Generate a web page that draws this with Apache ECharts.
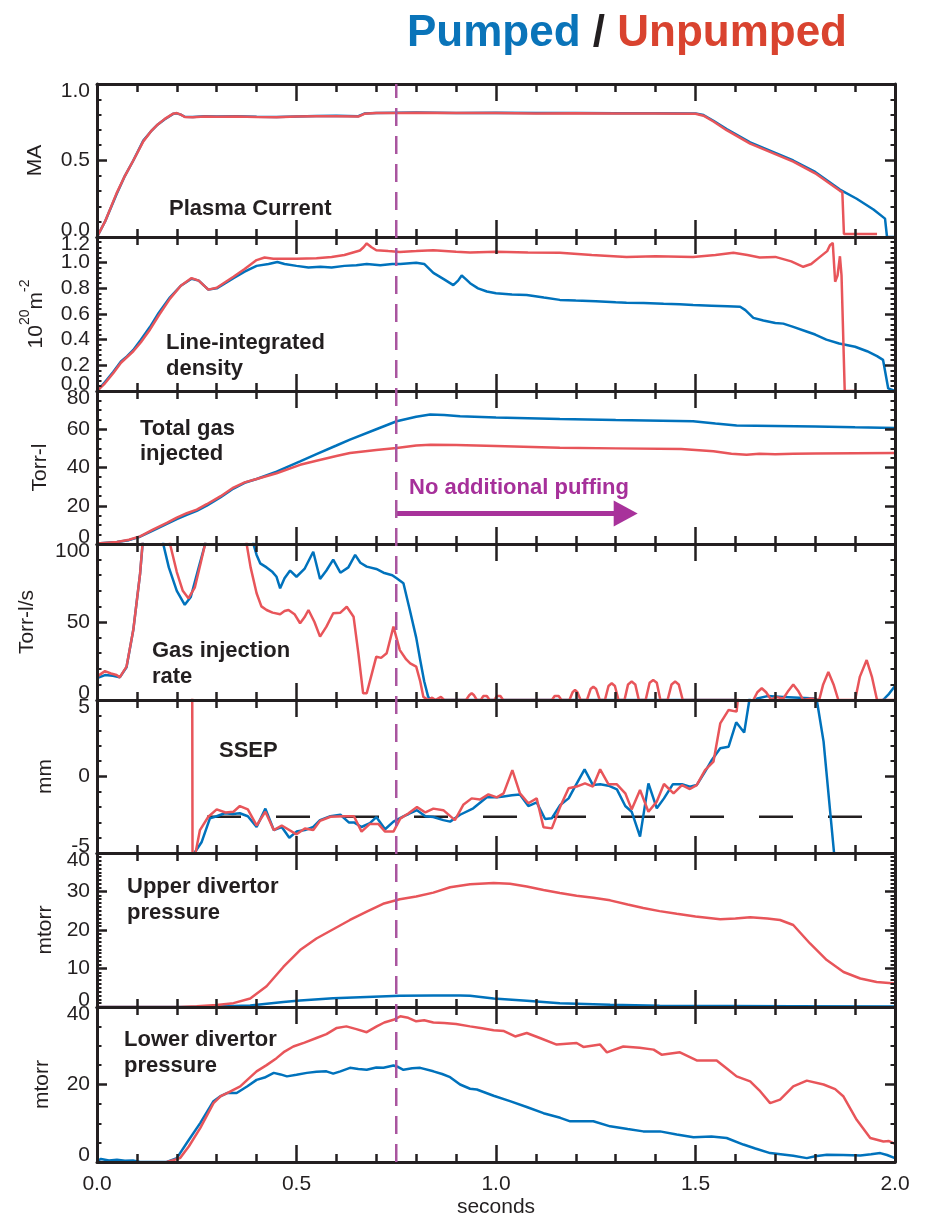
<!DOCTYPE html>
<html>
<head>
<meta charset="utf-8">
<script src="https://cdn.jsdelivr.net/npm/echarts@6/dist/echarts.min.js"></script>
<style>
  html, body { margin: 0; padding: 0; background: #ffffff; }
  #chart { width: 925px; height: 1218px; }
</style>
</head>
<body>
<div id="chart"></div>
<script>
// ---------------- data (time in seconds, value in panel units) ----------------

// Plasma current, MA
const currentPumped = [[0,0],[0.02,0.1],[0.049,0.28],[0.07,0.4],[0.091,0.5],[0.116,0.63],[0.135,0.69],[0.15,0.73],[0.17,0.77],[0.191,0.805],[0.2,0.808],[0.21,0.8],[0.22,0.786],[0.24,0.785],[0.27,0.789],[0.3,0.788],[0.35,0.789],[0.4,0.786],[0.45,0.785],[0.5,0.788],[0.55,0.791],[0.6,0.792],[0.655,0.79],[0.67,0.807],[0.7,0.811],[0.75,0.812],[0.8,0.813],[0.9,0.811],[1.0,0.812],[1.1,0.81],[1.2,0.811],[1.3,0.809],[1.4,0.809],[1.5,0.808],[1.52,0.797],[1.545,0.76],[1.578,0.705],[1.637,0.618],[1.7,0.55],[1.745,0.5],[1.8,0.425],[1.862,0.31],[1.904,0.25],[1.946,0.18],[1.975,0.12],[1.98,0.0],[2.0,0.0]];
const currentUnpumped = [[0,0],[0.02,0.1],[0.049,0.285],[0.07,0.4],[0.091,0.5],[0.116,0.625],[0.135,0.69],[0.15,0.73],[0.17,0.772],[0.191,0.806],[0.2,0.81],[0.21,0.8],[0.22,0.784],[0.24,0.783],[0.27,0.788],[0.3,0.786],[0.35,0.788],[0.4,0.785],[0.45,0.783],[0.5,0.787],[0.55,0.79],[0.6,0.79],[0.655,0.787],[0.67,0.805],[0.7,0.81],[0.75,0.811],[0.8,0.812],[0.9,0.81],[1.0,0.81],[1.1,0.808],[1.2,0.809],[1.3,0.807],[1.4,0.807],[1.5,0.806],[1.52,0.793],[1.545,0.755],[1.578,0.698],[1.637,0.61],[1.7,0.542],[1.745,0.492],[1.8,0.416],[1.862,0.302],[1.868,0.293],[1.872,0.02],[1.955,0.02]];

// Line-integrated density, 1e20 m^-2
const densityPumped = [[0,0],[0.02,0.07],[0.041,0.15],[0.06,0.23],[0.075,0.27],[0.091,0.32],[0.11,0.4],[0.133,0.5],[0.155,0.61],[0.183,0.73],[0.21,0.82],[0.237,0.875],[0.255,0.86],[0.279,0.79],[0.3,0.8],[0.342,0.88],[0.37,0.93],[0.4,0.975],[0.43,0.99],[0.452,1.005],[0.47,0.99],[0.5,0.975],[0.53,0.962],[0.56,0.968],[0.588,0.962],[0.62,0.975],[0.65,0.98],[0.676,0.99],[0.71,0.98],[0.74,0.99],[0.76,0.99],[0.8,1.0],[0.82,0.99],[0.843,0.92],[0.87,0.87],[0.893,0.825],[0.905,0.86],[0.914,0.9],[0.925,0.87],[0.935,0.84],[0.955,0.8],[0.977,0.775],[1.0,0.762],[1.04,0.752],[1.077,0.748],[1.12,0.728],[1.16,0.71],[1.2,0.705],[1.25,0.7],[1.3,0.692],[1.327,0.688],[1.37,0.686],[1.42,0.68],[1.46,0.676],[1.494,0.67],[1.54,0.665],[1.58,0.661],[1.612,0.657],[1.625,0.63],[1.645,0.57],[1.67,0.55],[1.7,0.53],[1.72,0.525],[1.745,0.5],[1.78,0.462],[1.8,0.44],[1.828,0.4],[1.86,0.37],[1.9,0.345],[1.93,0.31],[1.955,0.272],[1.97,0.243],[1.983,0.02],[2.0,0.0]];
const densityUnpumped = [[0,0],[0.02,0.06],[0.041,0.14],[0.06,0.22],[0.091,0.31],[0.11,0.38],[0.133,0.48],[0.155,0.59],[0.183,0.72],[0.21,0.82],[0.237,0.88],[0.255,0.86],[0.279,0.79],[0.3,0.805],[0.342,0.89],[0.37,0.95],[0.4,1.02],[0.42,1.04],[0.442,1.03],[0.5,1.03],[0.55,1.035],[0.588,1.045],[0.62,1.06],[0.659,1.095],[0.668,1.12],[0.676,1.15],[0.688,1.12],[0.7,1.097],[0.73,1.09],[0.759,1.084],[0.8,1.09],[0.843,1.097],[0.9,1.085],[0.935,1.08],[1.0,1.085],[1.08,1.08],[1.16,1.077],[1.24,1.06],[1.327,1.045],[1.4,1.05],[1.494,1.045],[1.55,1.06],[1.595,1.077],[1.63,1.06],[1.661,1.04],[1.7,1.045],[1.74,1.01],[1.77,0.968],[1.79,0.99],[1.812,1.045],[1.83,1.09],[1.837,1.136],[1.844,1.154],[1.85,0.851],[1.856,0.9],[1.862,1.05],[1.866,0.9],[1.874,0.0],[1.9,0.0]];

// Total gas injected, Torr-l
const gasTotalPumped = [[0,0.3],[0.05,1],[0.08,2],[0.108,3.8],[0.14,7],[0.175,10.5],[0.2,13],[0.225,15.2],[0.25,17.3],[0.275,20],[0.31,24.5],[0.342,29],[0.37,32],[0.4,34],[0.45,37.8],[0.509,43.2],[0.55,47],[0.6,51.5],[0.634,54.6],[0.7,60],[0.751,64.2],[0.8,66.5],[0.835,67.7],[0.87,67.5],[0.91,66.8],[1.0,66.2],[1.16,65.4],[1.3,64.8],[1.494,64.2],[1.55,63],[1.603,61.9],[1.7,61.7],[1.8,61.4],[1.9,61],[2.0,60.7]];
const gasTotalUnpumped = [[0,0.3],[0.05,1],[0.08,2.2],[0.108,4],[0.14,7.5],[0.175,11],[0.2,13.8],[0.225,16.1],[0.25,18],[0.275,20.8],[0.31,25],[0.342,29.5],[0.37,32.2],[0.4,34],[0.45,37],[0.509,41.4],[0.55,43.5],[0.6,46],[0.634,47.6],[0.7,49.2],[0.751,50.2],[0.8,51.5],[0.836,51.9],[0.9,51.8],[1.0,51.3],[1.16,50.3],[1.3,50],[1.464,49.7],[1.545,48.5],[1.59,47.2],[1.628,46.7],[1.66,47.2],[1.7,46.9],[1.745,47.2],[1.8,47.3],[1.9,47.5],[2.0,47.6]];

// Gas injection rate, Torr-l/s
const gasRatePumped = [[0,14],[0.02,16],[0.04,15.5],[0.057,14.5],[0.074,21],[0.091,45],[0.108,81],[0.115,102],[0.12,130],[0.16,130],[0.166,100],[0.18,85],[0.2,70],[0.22,61],[0.235,66],[0.255,85],[0.271,100],[0.28,130],[0.385,130],[0.392,100],[0.4,93],[0.409,87.6],[0.425,85],[0.44,82],[0.45,79],[0.459,71.6],[0.47,78],[0.484,83],[0.5,79],[0.52,84],[0.542,95],[0.559,77.6],[0.575,83],[0.592,90],[0.61,81.6],[0.63,85],[0.647,93],[0.66,88],[0.676,85.5],[0.7,84],[0.718,81.6],[0.74,80],[0.751,78],[0.768,74.8],[0.784,57.7],[0.8,40],[0.81,25.6],[0.82,12],[0.83,2],[0.84,0],[1.6,0],[1.615,-3],[1.64,-3],[1.655,1],[1.68,2.5],[1.72,2],[1.76,1.5],[1.8,1],[1.805,-4],[1.95,-2],[1.97,0],[1.985,4],[2.0,9]];
const gasRateUnpumped = [[0,15],[0.02,18.5],[0.035,17],[0.049,16],[0.057,14.5],[0.074,21.4],[0.091,45],[0.108,81],[0.114,100],[0.12,130],[0.175,130],[0.183,100],[0.2,82],[0.215,70],[0.229,65.2],[0.245,72],[0.26,88],[0.271,100],[0.28,130],[0.368,130],[0.375,100],[0.385,85],[0.4,68.4],[0.412,60],[0.425,57.7],[0.44,56],[0.459,55],[0.47,57],[0.48,57.7],[0.495,55],[0.509,49.2],[0.52,53],[0.53,57.7],[0.545,50],[0.559,40.6],[0.575,47],[0.592,55.6],[0.61,56],[0.626,59.8],[0.643,53.4],[0.655,30],[0.667,4.3],[0.676,4.3],[0.69,18],[0.7,27.8],[0.712,27],[0.726,30],[0.743,47],[0.759,32],[0.775,26],[0.785,23.5],[0.8,21.4],[0.81,12],[0.818,2],[0.83,0],[0.84,1.5],[0.848,0],[0.862,2],[0.87,0],[0.925,0],[0.933,3],[0.939,4.3],[0.945,3],[0.952,0],[0.962,0],[0.968,2.5],[0.972,3.2],[0.977,2.5],[0.984,0],[0.996,0],[1.002,2.5],[1.006,3.2],[1.011,2.5],[1.018,0],[1.14,0],[1.147,2.5],[1.152,3.2],[1.157,2.5],[1.164,0],[1.184,0],[1.192,5],[1.198,6.4],[1.204,5],[1.212,0],[1.228,0],[1.237,7],[1.244,8.5],[1.251,7],[1.26,0],[1.273,0],[1.282,9],[1.29,10.7],[1.298,9],[1.307,0],[1.322,0],[1.331,10],[1.34,11.8],[1.349,10],[1.358,0],[1.375,0],[1.385,11],[1.394,12.8],[1.403,11],[1.412,0],[1.43,0],[1.44,10],[1.449,11.8],[1.458,10],[1.468,0],[1.6,0],[1.61,-3],[1.635,-4],[1.645,0],[1.655,5],[1.666,7.5],[1.677,5],[1.69,0],[1.7,2],[1.72,1],[1.733,6],[1.745,10],[1.757,6],[1.77,0],[1.79,1],[1.81,0],[1.82,10],[1.833,18],[1.846,10],[1.858,0],[1.9,0],[1.912,15],[1.929,25.6],[1.942,15],[1.955,0],[2.0,0]];

// SSEP, mm
const ssepPumped = [[0.242,-6],[0.244,-5],[0.262,-4.3],[0.283,-2.74],[0.3,-2.6],[0.32,-2.4],[0.34,-2.45],[0.358,-2.4],[0.378,-2.6],[0.4,-3.3],[0.422,-2.1],[0.443,-3.5],[0.463,-3.3],[0.482,-4.0],[0.5,-3.6],[0.521,-3.5],[0.542,-3.3],[0.559,-2.85],[0.585,-2.6],[0.61,-2.5],[0.631,-3.0],[0.644,-3.0],[0.663,-3.3],[0.684,-3.05],[0.7,-2.65],[0.722,-3.45],[0.743,-2.95],[0.768,-2.6],[0.781,-2.45],[0.802,-2.2],[0.823,-2.6],[0.843,-2.65],[0.868,-2.85],[0.885,-2.95],[0.91,-2.5],[0.943,-2.08],[0.977,-1.36],[1.002,-1.36],[1.019,-1.3],[1.04,-1.23],[1.06,-1.17],[1.081,-1.93],[1.102,-1.69],[1.123,-2.78],[1.14,-2.73],[1.161,-1.86],[1.182,-1.43],[1.198,-0.66],[1.222,0.47],[1.243,-0.56],[1.261,-0.51],[1.282,-0.6],[1.303,-0.84],[1.324,-1.93],[1.34,-2.3],[1.361,-3.93],[1.382,-0.45],[1.403,-2.08],[1.421,-1.43],[1.443,-0.51],[1.466,-0.51],[1.486,-0.66],[1.503,-0.56],[1.524,0.32],[1.541,1.08],[1.562,1.84],[1.583,1.95],[1.602,3.54],[1.622,2.87],[1.635,5.0],[1.65,8],[1.79,8],[1.804,5.0],[1.821,2.28],[1.848,-5.2],[1.86,-8]];
const ssepUnpumped = [[0.2385,8],[0.2395,-6],[0.258,-3.5],[0.279,-2.63],[0.3,-2.15],[0.322,-2.35],[0.342,-2.3],[0.358,-1.93],[0.378,-2.15],[0.4,-3.2],[0.422,-2.3],[0.443,-3.5],[0.463,-3.2],[0.5,-3.78],[0.521,-3.4],[0.542,-3.5],[0.559,-2.9],[0.585,-2.63],[0.619,-2.6],[0.644,-2.6],[0.663,-3.6],[0.684,-3.1],[0.705,-3.1],[0.722,-3.6],[0.743,-3.6],[0.76,-2.75],[0.781,-2.4],[0.802,-2.0],[0.823,-2.35],[0.843,-2.1],[0.868,-2.2],[0.897,-2.85],[0.918,-1.85],[0.939,-1.43],[0.96,-1.5],[0.981,-1.17],[1.002,-1.36],[1.019,-1.1],[1.041,0.42],[1.06,-1.1],[1.081,-1.75],[1.102,-1.43],[1.119,-3.32],[1.14,-3.39],[1.161,-1.97],[1.182,-0.77],[1.202,-0.66],[1.223,-0.45],[1.243,-0.66],[1.261,0.47],[1.282,-0.51],[1.303,-0.51],[1.324,-1.1],[1.34,-2.15],[1.361,-0.88],[1.382,-2.3],[1.403,-1.64],[1.421,-0.49],[1.445,-1.1],[1.466,-0.56],[1.486,-0.82],[1.503,-0.56],[1.524,0.42],[1.545,0.97],[1.562,3.47],[1.583,4.35],[1.603,4.24],[1.612,6.5],[1.63,9]];
// SSEP reference level, mm
const ssepTarget = [[0.2757,-2.63],[2.03,-2.63]];

// Upper divertor pressure, mtorr
const upperPumped = [[0,0],[0.234,0],[0.3,0.1],[0.384,0.4],[0.467,1.3],[0.509,1.7],[0.592,2.3],[0.676,2.6],[0.759,2.9],[0.843,3.0],[0.91,3.0],[0.935,2.9],[0.994,2.2],[1.077,1.6],[1.16,1.0],[1.286,0.6],[1.41,0.35],[1.578,0.26],[1.745,0.17],[2.0,0.1]];
const upperUnpumped = [[0,0],[0.1,0],[0.207,0],[0.25,0.2],[0.3,0.5],[0.342,1.0],[0.384,2.2],[0.425,5.4],[0.467,10.4],[0.509,14.8],[0.55,17.8],[0.592,20.2],[0.634,22.6],[0.676,24.8],[0.717,26.8],[0.759,28.0],[0.8,28.7],[0.843,29.7],[0.885,31.1],[0.935,31.9],[0.994,32.2],[1.035,32.0],[1.077,31.3],[1.119,30.4],[1.16,29.6],[1.202,28.9],[1.244,28.4],[1.286,27.7],[1.33,26.6],[1.369,25.7],[1.41,24.9],[1.453,24.2],[1.5,23.5],[1.562,22.8],[1.6,23.0],[1.637,23.3],[1.68,23.0],[1.712,22.6],[1.745,21.3],[1.787,16.5],[1.829,12.2],[1.871,9.1],[1.913,7.4],[1.954,6.5],[2.0,6.1]];

// Lower divertor pressure, mtorr
const lowerPumped = [[0,0.2],[0.01,0.8],[0.03,0.4],[0.05,0.6],[0.07,0.3],[0.09,0.4],[0.108,0],[0.175,0],[0.2,1.0],[0.225,4.9],[0.259,10.1],[0.292,15.7],[0.31,17],[0.326,17.8],[0.35,17.8],[0.376,19.5],[0.4,21.2],[0.42,21.8],[0.443,23.0],[0.46,22.6],[0.476,22.1],[0.5,22.5],[0.526,23.0],[0.55,23.3],[0.575,23.4],[0.592,22.8],[0.61,23.4],[0.634,24.3],[0.655,24.0],[0.676,23.8],[0.7,24.4],[0.718,24.3],[0.743,24.9],[0.755,24.5],[0.768,23.8],[0.79,24.2],[0.81,24.3],[0.843,23.4],[0.865,22.7],[0.885,21.9],[0.91,20.0],[0.935,18.9],[0.952,18.7],[0.994,17.1],[1.035,15.7],[1.077,14.2],[1.119,12.6],[1.161,11.4],[1.186,10.5],[1.244,10.5],[1.286,9.2],[1.33,8.5],[1.369,7.9],[1.411,7.9],[1.453,7.1],[1.495,6.4],[1.54,6.6],[1.578,6.2],[1.62,4.5],[1.65,3.5],[1.687,2.3],[1.745,1.6],[1.779,1.0],[1.8,1.5],[1.829,1.9],[1.87,1.8],[1.913,1.7],[1.94,2.0],[1.963,2.3],[1.98,1.8],[2.0,1.0]];
const lowerUnpumped = [[0.175,0],[0.208,1.0],[0.23,4],[0.259,8.8],[0.292,15.2],[0.31,17],[0.326,17.8],[0.359,19.5],[0.38,21.5],[0.4,23.4],[0.425,25],[0.45,26.8],[0.47,28.5],[0.492,29.8],[0.52,30.8],[0.55,32.0],[0.575,33],[0.601,34.6],[0.625,35],[0.65,34.3],[0.676,33.5],[0.701,35.0],[0.72,36],[0.743,36.7],[0.76,37.6],[0.78,37.2],[0.8,36.3],[0.82,36.6],[0.843,36.0],[0.87,35.9],[0.9,35.6],[0.935,35.0],[0.965,34.5],[0.994,34.0],[1.02,33.8],[1.048,32.4],[1.077,33.3],[1.11,32.0],[1.152,30.3],[1.202,30.7],[1.219,29.7],[1.261,30.3],[1.278,28.3],[1.319,29.8],[1.36,29.5],[1.395,29.0],[1.415,27.7],[1.461,28.3],[1.503,26.2],[1.553,26.2],[1.58,24],[1.603,22.1],[1.637,20.8],[1.66,18.5],[1.687,15.2],[1.712,16.1],[1.745,19.5],[1.779,21.0],[1.821,20.0],[1.85,18.8],[1.871,16.9],[1.904,10.9],[1.938,6.2],[1.971,5.3],[1.985,5.4],[2.0,4.7]];

// Time of the last gas puff, s, and the arrow marking the unpuffed phase (Torr-l level)
const puffStop = 0.75;
const arrowFrom = [0.75, 16];
const arrowTo = [1.325, 16];

// ---------------- axes ----------------
const xTickLabels = ['0.0', '0.5', '1.0', '1.5', '2.0'];
const yUnits = ['MA', '{n|10}{sup|20}{n|m}{sup|-2}', 'Torr-l', 'Torr-l/s', 'mm', 'mtorr', 'mtorr'];
const yMin = [0, 0, 0, 0, -5, 0, 0];
const yMax = [1.0, 1.2, 80, 100, 5, 40, 40];
const yStep = [0.5, 0.2, 20, 50, 5, 10, 20];
const yMinorSplit = [5, 5, 4, 5, 5, 10, 4];
const yDecimals = [1, 1, 0, 0, 0, 0, 0];

const panelPairs = [
  [currentPumped, currentUnpumped],
  [densityPumped, densityUnpumped],
  [gasTotalPumped, gasTotalUnpumped],
  [gasRatePumped, gasRateUnpumped],
  [ssepPumped, ssepUnpumped],
  [upperPumped, upperUnpumped],
  [lowerPumped, lowerUnpumped]
];

// ---------------- layout & style ----------------
const FONT = '"Liberation Sans", Arial, Helvetica, sans-serif';
const INK = '#231F20';
const BLUE = '#0072BC';
const RED = '#E8555A';
const PURPLE = '#A9559F';
const ARROW = '#A8329B';

const panelTop = [84, 237, 391, 544, 700, 853, 1007];
const panelBottom = [237, 391, 544, 700, 853, 1007, 1162];
const nameGaps = [51, 50, 46, 59, 41, 41, 44];

const panelText = [
  { text: 'Plasma Current', x: 169, y: 208.5 },
  { text: 'Line-integrated', x: 166, y: 343 },
  { text: 'density', x: 166, y: 369 },
  { text: 'Total gas', x: 140, y: 428.5 },
  { text: 'injected', x: 140, y: 454 },
  { text: 'Gas injection', x: 152, y: 650.5 },
  { text: 'rate', x: 152, y: 676.5 },
  { text: 'SSEP', x: 219, y: 750.5 },
  { text: 'Upper divertor', x: 127, y: 886.5 },
  { text: 'pressure', x: 127, y: 912.5 },
  { text: 'Lower divertor', x: 124, y: 1039.5 },
  { text: 'pressure', x: 124, y: 1065.5 },
  { text: 'No additional puffing', x: 409, y: 487.5, color: '#A6309A' }
];

const chart = echarts.init(document.getElementById('chart'), null, { renderer: 'canvas' });

const grid = [];
const xAxis = [];
const yAxis = [];
const series = [];

const tickStyle = { color: INK, width: 2.5 };
const axisLineStyle = { color: INK, width: 3 };
const labelFont = { fontSize: 21, color: INK, fontFamily: FONT };

const fmt = (v, dec) => (Math.abs(v) < 1e-9 ? 0 : v).toFixed(dec);

for (let i = 0; i < 7; i++) {
  const isLast = i === 6;
  grid.push({
    left: 97, right: 30, top: panelTop[i], height: panelBottom[i] - panelTop[i],
    containLabel: false, outerBoundsMode: 'none'
  });

  const xBase = {
    type: 'value', gridIndex: i, min: 0, max: 2.0, interval: 0.5, z: 5,
    axisLine: { show: true, onZero: false, lineStyle: axisLineStyle },
    axisTick: { show: true, inside: true, length: 17, lineStyle: tickStyle },
    minorTick: { show: true, splitNumber: 5, length: 8, lineStyle: tickStyle },
    splitLine: { show: false }, minorSplitLine: { show: false }
  };
  xAxis.push(Object.assign({}, xBase, {
    position: 'bottom',
    axisLabel: isLast ? Object.assign({
      show: true, margin: 12,
      formatter: (v) => xTickLabels[Math.round(v / 0.5)]
    }, labelFont) : { show: false },
    name: isLast ? 'seconds' : '',
    nameLocation: 'middle', nameGap: 35, nameMoveOverlap: false,
    nameTextStyle: labelFont
  }));
  xAxis.push(Object.assign({}, xBase, { position: 'top', axisLabel: { show: false } }));

  const yBase = {
    type: 'value', gridIndex: i, min: yMin[i], max: yMax[i], interval: yStep[i], z: 5,
    axisLine: { show: true, onZero: false, lineStyle: axisLineStyle },
    axisTick: { show: true, inside: true, length: 10, lineStyle: tickStyle },
    minorTick: { show: true, splitNumber: yMinorSplit[i], length: 4.5, lineStyle: { color: INK, width: 2 } },
    splitLine: { show: false }, minorSplitLine: { show: false }
  };
  const dec = yDecimals[i];

  // left axis: frame, ticks, inner labels and unit name
  yAxis.push(Object.assign({}, yBase, {
    position: 'left',
    axisLabel: Object.assign({
      show: true, margin: 7, showMinLabel: false, showMaxLabel: false,
      formatter: (v) => fmt(v, dec)
    }, labelFont),
    name: yUnits[i], nameLocation: 'middle', nameGap: nameGaps[i], nameMoveOverlap: false,
    nameTextStyle: Object.assign({
      rich: {
        n: Object.assign({ verticalAlign: 'bottom', lineHeight: 24 }, labelFont),
        sup: { fontSize: 14, color: INK, fontFamily: FONT, verticalAlign: 'bottom', padding: [0, 0, 15, 0] }
      }
    }, labelFont)
  }));
  // right axis: frame and ticks only
  yAxis.push(Object.assign({}, yBase, { position: 'right', axisLabel: { show: false } }));
  // end labels, nudged inside the frame
  const lo = yMin[i], hi = yMax[i];
  yAxis.push({
    type: 'value', gridIndex: i, position: 'left', min: lo, max: hi, interval: hi - lo, z: 5,
    axisLine: { show: false }, axisTick: { show: false }, splitLine: { show: false },
    axisLabel: Object.assign({
      show: true, margin: 7, showMinLabel: true, showMaxLabel: true,
      formatter: (v) => (Math.abs(v - hi) < 1e-9 ? '{top|' : '{bot|') + fmt(v, dec) + '}',
      rich: {
        top: Object.assign({ padding: [15, 0, 0, 0] }, labelFont),
        bot: Object.assign({ padding: [0, 0, 14, 0] }, labelFont)
      }
    }, labelFont)
  });

  const [pumped, unpumped] = panelPairs[i];
  const common = {
    type: 'line', xAxisIndex: 2 * i, yAxisIndex: 3 * i, showSymbol: false, symbol: 'none',
    z: 2, animation: false, silent: true
  };

  if (i === 4) {
    // reference SSEP level, dashed, running past the right frame
    series.push(Object.assign({}, common, {
      name: 'SSEP reference', data: ssepTarget, clip: false, z: 1,
      lineStyle: { color: INK, width: 2.5, type: [34, 35] }
    }));
  }

  const pumpedSeries = Object.assign({}, common, {
    name: 'Pumped', data: pumped, lineStyle: { color: BLUE, width: 2.5 }
  });
  if (i === 2) {
    pumpedSeries.markLine = {
      silent: true, animation: false,
      symbol: ['none', 'triangle'], symbolSize: [26, 24],
      label: { show: false },
      lineStyle: { color: ARROW, width: 5, type: 'solid' },
      emphasis: { disabled: true },
      data: [[{ coord: arrowFrom }, { coord: arrowTo }]]
    };
  }
  series.push(pumpedSeries);
  series.push(Object.assign({}, common, {
    name: 'Unpumped', data: unpumped, lineStyle: { color: RED, width: 2.5 }
  }));
}

// overlay spanning all panels for the end-of-puffing marker
grid.push({ left: 97, right: 30, top: 84, height: 1162 - 84, containLabel: false, outerBoundsMode: 'none' });
xAxis.push({ type: 'value', gridIndex: 7, min: 0, max: 2.0, show: false });
yAxis.push({ type: 'value', gridIndex: 7, min: 0, max: 1, show: false });
series.push({
  type: 'line', xAxisIndex: xAxis.length - 1, yAxisIndex: yAxis.length - 1,
  showSymbol: false, symbol: 'none', silent: true, animation: false, z: 6,
  data: [[puffStop, 0], [puffStop, 1]],
  lineStyle: { color: PURPLE, width: 2.5, type: [18, 10] }
});

const option = {
  backgroundColor: '#ffffff',
  animation: false,
  title: {
    text: '{b|Pumped} {k|/} {r|Unpumped}',
    left: 407, top: 12, padding: 0,
    textStyle: {
      fontSize: 44, fontWeight: 'bold', fontFamily: FONT, color: INK,
      rich: {
        b: { fontSize: 44, fontWeight: 'bold', fontFamily: FONT, color: '#0A74B9' },
        k: { fontSize: 44, fontWeight: 'bold', fontFamily: FONT, color: INK },
        r: { fontSize: 44, fontWeight: 'bold', fontFamily: FONT, color: '#D9432F' }
      }
    }
  },
  grid, xAxis, yAxis, series,
  graphic: panelText.map((t) => ({
    type: 'text', x: t.x, y: t.y, z: 10, silent: true,
    style: {
      text: t.text, fill: t.color || INK,
      font: 'bold 22px ' + FONT, align: 'left', verticalAlign: 'middle'
    }
  }))
};

chart.setOption(option);
</script>
</body>
</html>
